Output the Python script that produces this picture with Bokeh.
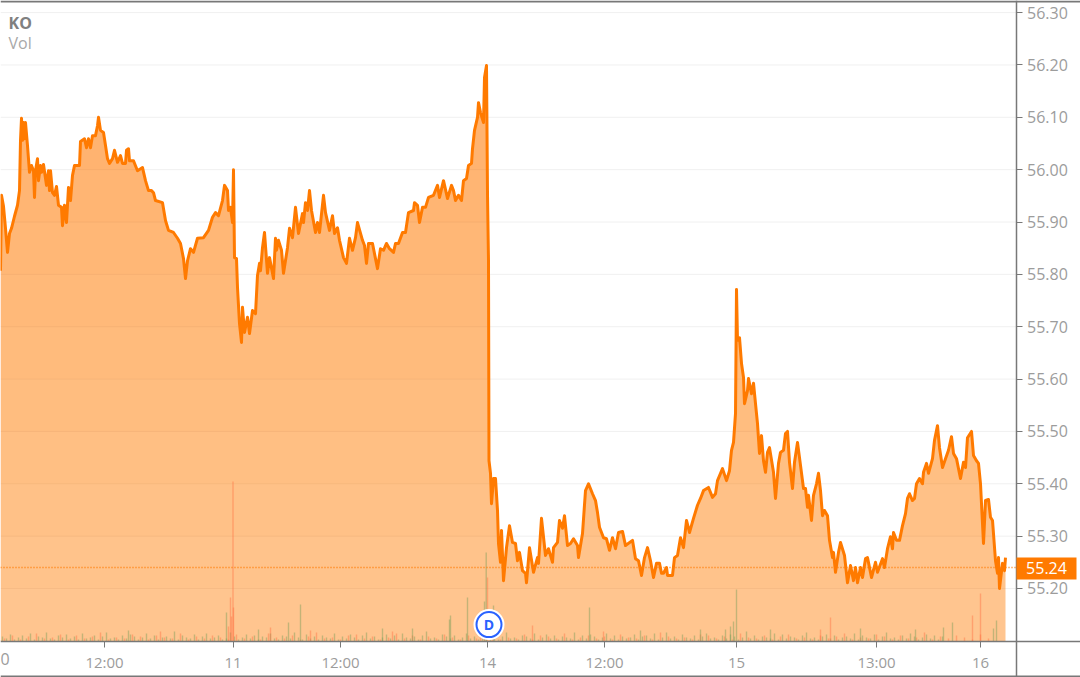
from bokeh.core.properties import value
from bokeh.embed import file_html
from bokeh.models import BoxAnnotation, ColumnDataSource, Label, Range1d
from bokeh.plotting import figure
from bokeh.resources import INLINE
import numpy as np

# bar number on the intraday axis, and the price at that bar
bars = [0,1,3,5,7,9,11,14,17,19,20,21,22,23,24,25,27,29,31,33,34,35,37,38,40,41,43,46,48,49,50,52,54,56,58,61,62,64,66,68,70,72,74,77,79,
80,84,86,88,90,92,95,97,98,100,103,105,107,109,112,114,117,120,122,125,126,128,129,
133,137,142,145,148,151,153,155,162,165,168,173,177,180,183,185,187,190,193,197,203,208,212,215,218,222,224,227,228,230,232,233,234,236,237,239,241,242,244,247,249,252,255,257,259,
260,262,264,267,269,273,275,276,278,281,283,287,289,292,295,298,302,303,305,307,309,311,315,317,319,323,325,329,332,334,337,339,343,346,349,352,355,357,362,364,366,368,372,375,377,380,383,386,389,
393,395,398,402,405,408,413,414,417,419,422,425,428,433,437,439,443,447,451,453,455,458,461,463,466,468,471,472,474,477,478,480,483,484,486,487,488,488.5,
490,491,493,495,497,498,500,501,503,506,509,512,515,517,519,522,525,526,529,533,537,538,541,545,548,552,553,557,559,562,564,567,570,573,577,578,582,585,588,592,595,597,599,603,606,609,612,615,618,622,625,632,635,638,641,644,647,650,653,
656,659,661,663,666,667,672,674,677,680,683,686,689,693,697,700,703,708,712,715,717,722,726,729,731,733,735,736,737,739,741,743,744,747,748,751,753,755,757,759,761,763,765,767,769,
773,775,778,780,783,785,787,789,792,794,797,799,803,805,807,808,811,813,816,818,820,822,824,827,829,832,833,835,838,840,844,847,850,853,855,857,860,862,865,867,871,875,877,882,884,887,
890,892,893,896,899,902,905,907,909,912,914,916,919,922,923,926,928,932,934,937,939,942,945,948,951,953,956,960,963,965,967,971,973,976,978,980,983,985,988,990,992,995,997,998,999,1002,1004,1005]

prices = [55.807,55.951,55.93,55.888,55.842,55.878,55.888,55.911,55.932,55.96,56.056,56.098,56.056,56.09,56.059,56.09,56.046,55.995,56.008,55.998,55.947,55.998,56.021,55.979,56.008,55.995,56.01,55.97,55.998,55.96,55.998,55.956,55.951,55.968,55.932,55.928,55.893,55.932,55.899,55.966,55.941,55.989,56.008,56.008,56.008,
56.054,56.059,56.042,56.059,56.042,56.065,56.065,56.084,56.10,56.075,56.071,56.046,56.021,56.012,56.021,56.037,56.014,56.027,56.012,56.012,56.037,56.04,56.017,
56.017,55.998,56.004,55.979,55.96,55.96,55.956,55.941,55.937,55.903,55.884,55.88,55.869,55.859,55.83,55.792,55.826,55.849,55.842,55.869,55.87,55.884,55.909,55.918,55.912,55.941,55.97,55.96,55.922,55.928,55.899,56.00,55.832,55.83,55.775,55.706,55.67,55.737,55.689,55.718,55.687,55.731,55.725,55.798,55.821,
55.807,55.851,55.88,55.802,55.832,55.792,55.869,55.846,55.865,55.846,55.802,55.851,55.888,55.87,55.928,55.878,55.916,55.899,55.937,55.922,55.96,55.922,55.88,55.899,55.88,55.951,55.918,55.884,55.912,55.878,55.889,55.865,55.832,55.821,55.869,55.846,55.87,55.899,55.865,55.855,55.821,55.859,55.859,55.83,55.811,55.849,55.846,55.859,55.849,
55.842,55.859,55.859,55.88,55.88,55.918,55.922,55.937,55.932,55.899,55.928,55.928,55.947,55.951,55.97,55.947,55.979,55.945,55.97,55.96,55.941,55.951,55.941,55.979,55.983,56.008,56.012,56.04,56.075,56.10,56.128,56.109,56.09,56.176,56.199,55.954,55.826,55.444,
55.42,55.362,55.41,55.41,55.349,55.286,55.25,55.311,55.215,55.278,55.32,55.288,55.286,55.253,55.269,55.234,55.229,55.211,55.278,55.231,55.259,55.248,55.334,55.263,55.276,55.25,55.278,55.288,55.33,55.315,55.339,55.282,55.286,55.295,55.282,55.259,55.305,55.387,55.40,55.381,55.368,55.345,55.317,55.297,55.295,55.273,55.297,55.276,55.307,55.309,55.282,55.292,55.257,55.253,55.225,55.259,55.278,55.253,55.221,
55.248,55.248,55.229,55.229,55.24,55.225,55.225,55.259,55.263,55.297,55.278,55.33,55.307,55.334,55.359,55.372,55.387,55.393,55.374,55.381,55.406,55.429,55.406,55.425,55.464,55.479,55.534,55.771,55.674,55.679,55.63,55.603,55.553,55.578,55.601,55.572,55.592,55.553,55.515,55.458,55.492,55.444,55.422,55.46,55.469,
55.422,55.372,55.439,55.46,55.464,55.496,55.50,55.441,55.391,55.441,55.479,55.45,55.391,55.391,55.355,55.378,55.33,55.378,55.40,55.42,55.387,55.339,55.349,55.339,55.292,55.259,55.269,55.231,55.269,55.288,55.263,55.211,55.244,55.215,55.24,55.211,55.24,55.221,55.257,55.259,55.221,55.25,55.231,55.257,55.24,55.276,
55.299,55.276,55.307,55.292,55.292,55.32,55.343,55.372,55.381,55.368,55.372,55.40,55.41,55.40,55.422,55.439,55.42,55.448,55.483,55.511,55.469,55.431,55.448,55.464,55.49,55.458,55.448,55.41,55.441,55.431,55.488,55.50,55.454,55.444,55.439,55.40,55.286,55.368,55.37,55.336,55.33,55.253,55.229,55.259,55.20,55.248,55.234,55.259]

last_price = 55.24
dividend_price = 55.131
y_ticks = [55.20,55.30,55.40,55.50,55.60,55.70,55.80,55.90,56.00,56.10,56.20,56.30]
x_ticks = [104,232.5,340,487,604,736,876,980]
x_tick_labels = ["12:00","11","12:00","14","12:00","15","13:00","16"]
symbol = "KO"
volume_name = "Vol"

# volume spikes
up_vol_bars = [226,300,288,484,485.7,467,450,449,493,589,952,943,996,993,736,733,730,725,382,258,128,412,640,700,770,860,915]
up_vol = [29,37,19,40,89,44,26,22,36,34,19,14,21,13,52,20,15,12,13,12,11,13,11,12,12,13,12]
down_vol_bars = [232.5,230,233,231,228,487,480,532,980,972,830,820,603,270,310,160,392]
down_vol = [160,44,34,25,15,64,28,16,48,26,24,12,10,14,11,10,10]
# background volume, one bar every 4 and every 8 bars
small_up = [5,3,7,2,4,6,3,8,2,5,4,9,3,2,6,4,7,3,5,2,8,3,4,6,2,5,9,3,4,2,6,3,7,5,2,4,8,3,6,2,
4,5,3,10,2,6,4,3,7,2,5,8,3,4,6,2,3,9,5,2,4,7,3,6,2,5,4,8,3,2,6,5,3,9,4,2,7,3,5,2,
6,4,3,8,2,5,3,7,4,2,6,9,3,5,2,4,7,3,6,2,8,4,3,5,2,6,10,3,4,2,7,5,3,6,2,4,8,3,5,2,
6,3,4,7,2,5,9,3,4,2,6,5,3,8,2,4,7,3,6,2,5,4,3,9,2,6,3,7,5,2,4,8,3,6,2,5,3,4,7,2,
5,6,3,8,2,4,9,3,5,2,7,4,3,6,2,5,8,3,4,2,6,3,7,5,2,4,10,3,6,2,5,4,3,8,2,7,3,5,4,2,
6,9,3,4,2,5,7,3,6,2,4,5,3,8,2,6,4,3,7,2,5,9,3,4,2,6,3,8,5,2,4,7,3,6,2,5]
small_down = [3,6,2,5,8,3,4,7,2,6,3,5,9,2,4,3,7,5,2,6,4,3,8,2,5,3,6,4,2,7,3,5,2,8,4,3,6,2,5,9,
3,4,2,6,7,3,5,2,4,8,3,6,2,5,3,7,4,2,6,3,9,5,2,4,3,7,2,6,5,3,8,2,4,6,3,5,2,7,4,3,
6,2,9,5,3,4,2,7,6,3,5,2,8,4,3,6,2,5,7,3,4,2,6,3,5,8,2,4,3,7,5,2,6,3,4,9,2,5,3,6,4,2,7,3]

price = np.array(prices)
small_up_bars = np.arange(len(small_up)) * 4 + 2
small_down_bars = np.arange(len(small_down)) * 8 + 4

Y_FLOOR = 55.0988   # price level of the time axis
AXIS_BAR = 1015.5   # bar position of the price axis

p = figure(width=1080, height=677, output_backend="svg", toolbar_location=None,
           x_range=Range1d(0, 1080), y_range=Range1d(55.0300, 56.3231),
           x_axis_location="below", y_axis_location="right",
           min_border_left=0, min_border_right=0, min_border_top=0, min_border_bottom=0,
           background_fill_color="white", border_fill_color="white", outline_line_color=None)

AXIS = "#787878"
TICK_TEXT = "#9c9c9c"
FONT = "Open Sans"

p.grid.visible = False
p.yaxis.fixed_location = AXIS_BAR
p.xaxis.fixed_location = Y_FLOOR
p.yaxis.ticker = y_ticks
p.yaxis[0].major_label_overrides = {t: f"{t:.2f}" for t in y_ticks}
p.xaxis.ticker = x_ticks
p.xaxis.major_label_overrides = dict(zip(x_ticks, x_tick_labels))
for ax in (p.xaxis[0], p.yaxis[0]):
    ax.axis_line_color = AXIS
    ax.axis_line_width = 1.5
    ax.major_tick_line_color = AXIS
    ax.major_tick_line_width = 1
    ax.major_tick_in = 0
    ax.major_tick_out = 6
    ax.minor_tick_line_color = None
    ax.major_label_text_color = TICK_TEXT
    ax.major_label_text_font = FONT
p.yaxis.major_label_text_font_size = "16px"
p.xaxis.major_label_text_font_size = "15px"
p.yaxis.major_label_standoff = 5
p.xaxis.major_label_standoff = 5

# price grid, only as far as the price axis
p.segment(x0=[0] * len(y_ticks), x1=[AXIS_BAR] * len(y_ticks), y0=y_ticks, y1=y_ticks,
          line_color="#f0f0f0", line_width=1, level="underlay")

ORANGE = "#ff7a00"
src = ColumnDataSource(dict(t=bars, price=prices, base=[Y_FLOOR] * len(bars)))
p.varea(x="t", y1="base", y2="price", source=src, fill_color=ORANGE, fill_alpha=0.44)
for band in [55.2, 55.3, 55.4, 55.5, 55.6, 55.7, 55.8, 55.9, 56.0, 56.1]:
    p.varea(x=bars, y1=np.minimum(price, band), y2=price, fill_color=ORANGE, fill_alpha=0.025)

p.extra_y_ranges = {"vol": Range1d(-36, 641)}
GREEN = "#6f9a55"
RED = "#ff6a3c"
BAR_W = 1.4
p.vbar(x=small_up_bars, top=small_up, bottom=0, width=BAR_W, y_range_name="vol", fill_color=GREEN, line_color=None, fill_alpha=0.42)
p.vbar(x=small_down_bars, top=small_down, bottom=0, width=BAR_W, y_range_name="vol", fill_color=RED, line_color=None, fill_alpha=0.4)
p.vbar(x=up_vol_bars, top=up_vol, bottom=0, width=BAR_W, y_range_name="vol", fill_color=GREEN, line_color=None, fill_alpha=0.42)
p.vbar(x=down_vol_bars, top=down_vol, bottom=0, width=BAR_W, y_range_name="vol", fill_color=RED, line_color=None, fill_alpha=0.4)

# last-price marker
p.segment(x0=[0], x1=[1022], y0=[last_price], y1=[last_price], line_color=ORANGE, line_width=1.5, line_dash="1 2")
p.line(x="t", y="price", source=src, line_color=ORANGE, line_width=3, line_join="round")

p.scatter([488.5], [dividend_price], size=31, marker="circle", fill_color="white", line_color=None)
p.scatter([488.5], [dividend_price], size=25, marker="circle", fill_color="white", line_color="#2962ff", line_width=2)
p.text([488.5], [dividend_price], text=["D"], text_color="#2962ff", text_font=value(FONT), text_font_size="14px",
       text_font_style="bold", text_align="center", text_baseline="middle")

# frame lines
box = dict(left_units="canvas", right_units="canvas", top_units="canvas", bottom_units="canvas",
           fill_alpha=1, line_color=None, level="overlay")
p.add_layout(BoxAnnotation(left=0, right=1080, top=0, bottom=2, fill_color=AXIS, **box))
p.add_layout(BoxAnnotation(left=0, right=1080, top=675, bottom=677, fill_color=AXIS, **box))
p.add_layout(BoxAnnotation(left=1016, right=1076, top=557, bottom=579, fill_color=ORANGE, **box))

lab = dict(x_units="screen", y_units="data", text_font=FONT, text_baseline="middle", text_font_size="16px", level="overlay")
p.add_layout(Label(x=1046, y=last_price - 0.001, text=f"{last_price:.2f}", text_color="white", text_align="center", **lab))
p.add_layout(Label(x=8, y=56.281, text=symbol, text_color="#808080", text_font_style="bold", **lab))
p.add_layout(Label(x=8, y=56.241, text=volume_name, text_color="#a8a8a8", **lab))
p.add_layout(Label(x=0, y=55.066, text="0", text_color=TICK_TEXT, **lab))

open("out.html", "w").write(file_html(p, INLINE))
